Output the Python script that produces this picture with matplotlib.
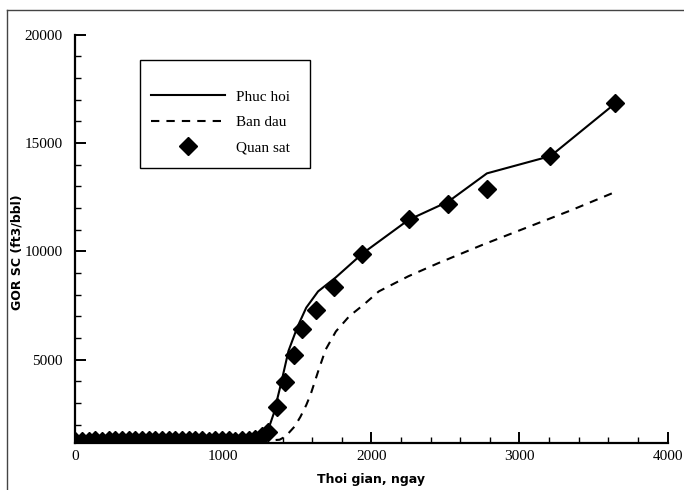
import matplotlib
matplotlib.use("Agg")
import matplotlib.pyplot as plt
from matplotlib.lines import Line2D
from matplotlib.patches import Rectangle
from matplotlib.ticker import MultipleLocator, FixedLocator

# Observed GOR (Quan sat)
obs_days = [0, 45, 90, 135, 180, 225, 270, 315, 360, 405, 450, 495, 540, 585,
            630, 675, 720, 765, 810, 855, 900, 945, 990, 1035, 1080, 1125,
            1170, 1215, 1260, 1300, 1360, 1414, 1474, 1528, 1628, 1749, 1936,
            2251, 2519, 2781, 3209, 3645]
obs_gor = [1240, 1260, 1250, 1270, 1260, 1280, 1290, 1270, 1280, 1290, 1300,
           1280, 1290, 1300, 1290, 1300, 1280, 1290, 1270, 1280, 1260, 1280,
           1270, 1290, 1260, 1290, 1300, 1350, 1450, 1650, 2800, 3950, 5230,
           6430, 7280, 8330, 9870, 11470, 12170, 12900, 14380, 16830]

# History-matched model (Phuc hoi)
match_days = [0, 1200, 1260, 1300, 1340, 1390, 1440, 1500, 1560, 1640, 1760,
              1940, 2250, 2520, 2780, 3210, 3650]
match_gor = [1250, 1280, 1380, 1700, 2500, 3900, 5400, 6500, 7400, 8150,
             8800, 9900, 11450, 12300, 13600, 14400, 16850]

# Initial model (Ban dau)
base_days = [0, 1300, 1380, 1420, 1480, 1520, 1560, 1590, 1640, 1690, 1760,
             1850, 1950, 2050, 2250, 2450, 2750, 3050, 3350, 3650]
base_gor = [1250, 1260, 1300, 1450, 1900, 2350, 2900, 3400, 4450, 5450, 6300,
            7000, 7550, 8150, 8850, 9450, 10300, 11100, 11900, 12750]

labels = ["Phuc hoi", "Ban dau", "Quan sat"]
x_ticks = [0, 1000, 2000, 3000, 4000]
y_ticks = [5000, 10000, 15000, 20000]

serif = "Liberation Serif"

fig = plt.figure(figsize=(6.84, 4.90), dpi=100)
ax = fig.add_axes([0.110, 0.096, 0.866, 0.833])

ax.plot(match_days, match_gor, color="black", lw=1.5, label=labels[0], zorder=3)
ax.plot(base_days, base_gor, color="black", lw=1.5, linestyle=(0, (4.0, 3.4)),
        label=labels[1], zorder=3)
ax.plot(obs_days, obs_gor, linestyle="none", marker="D", markersize=9,
        color="black", label=labels[2], zorder=4)

ax.set_xlim(0, 4000)
ax.set_ylim(1150, 20000)

for side in ("top", "right"):
    ax.spines[side].set_visible(False)
for side in ("left", "bottom"):
    ax.spines[side].set_linewidth(1.6)

ax.xaxis.set_major_locator(FixedLocator(x_ticks))
ax.xaxis.set_minor_locator(MultipleLocator(200))
ax.yaxis.set_major_locator(FixedLocator(y_ticks))
ax.yaxis.set_minor_locator(MultipleLocator(1000))
ax.tick_params(which="major", direction="in", length=8, width=1.4,
               labelsize=11)
ax.tick_params(axis="y", which="major", pad=9)
ax.tick_params(axis="x", which="major", pad=5)
ax.tick_params(which="minor", direction="in", length=4, width=1.0)
for lbl in ax.get_xticklabels() + ax.get_yticklabels():
    lbl.set_fontfamily(serif)

ax.set_xlabel("Thoi gian, ngay", fontsize=9, fontweight="bold", labelpad=7)
ax.set_ylabel("GOR SC (ft3/bbl)", fontsize=9, fontweight="bold")
ax.yaxis.set_label_coords(-0.087, 0.468)

# legend box and entries
ax.add_patch(Rectangle((0.109, 0.674), 0.288, 0.265, transform=ax.transAxes,
                       fill=True, facecolor="white", edgecolor="black",
                       lw=1.0, zorder=5))
leg = ax.legend(loc="upper left", bbox_to_anchor=(0.128, 0.865),
                frameon=False, prop={"family": serif, "size": 11},
                handlelength=4.85, handletextpad=0.72, labelspacing=0.78,
                borderpad=0, borderaxespad=0)
leg.set_zorder(6)

# outer border of the figure
fig.add_artist(Line2D([0.0102, 0.0102], [0.0, 0.98], color="#444444", lw=1.0,
                      transform=fig.transFigure))
fig.add_artist(Line2D([0.0102, 1.0], [0.98, 0.98], color="#444444", lw=1.0,
                      transform=fig.transFigure))

fig.savefig("out.png", dpi=100)
